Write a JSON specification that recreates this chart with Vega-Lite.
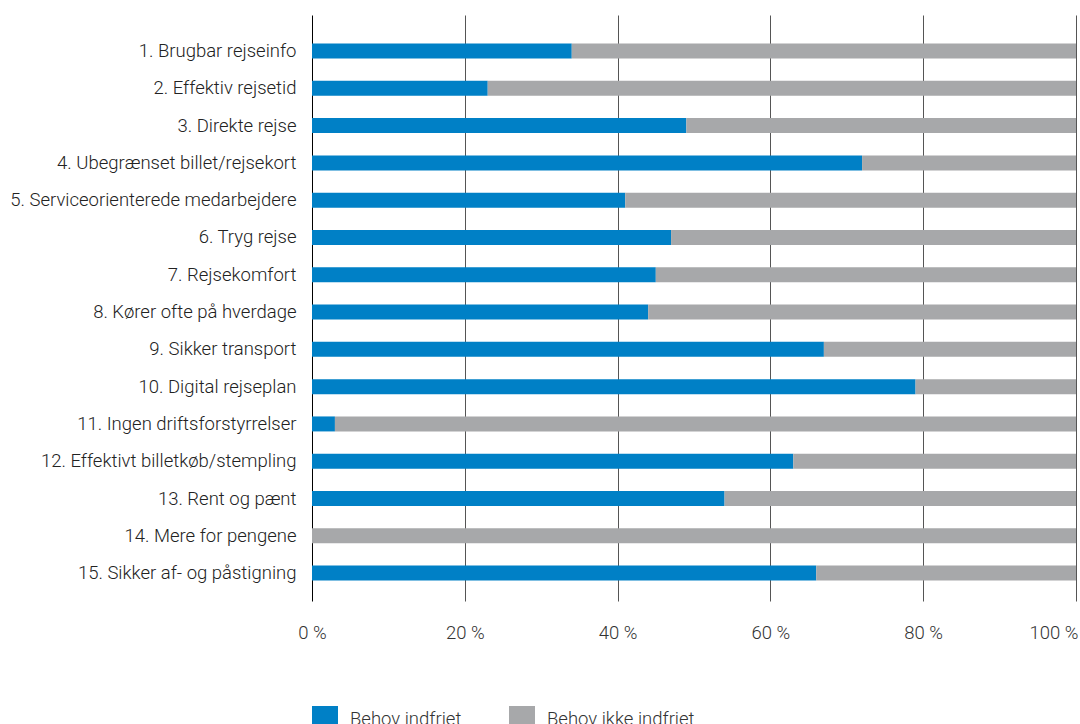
{
  "$schema": "https://vega.github.io/schema/vega-lite/v6.json",
  "width": 764,
  "height": 586,
  "autosize": {"type": "none"},
  "padding": {"left": 312, "top": 15, "right": 4, "bottom": 123},
  "background": "white",
  "config": {"view": {"stroke": null}, "font": "Roboto"},
  "data": {"values": [
    {"c": "1. Brugbar rejseinfo", "t": "Behov indfriet", "o": 1, "v": 34},
    {"c": "1. Brugbar rejseinfo", "t": "Behov ikke indfriet", "o": 2, "v": 66},
    {"c": "2. Effektiv rejsetid", "t": "Behov indfriet", "o": 1, "v": 23},
    {"c": "2. Effektiv rejsetid", "t": "Behov ikke indfriet", "o": 2, "v": 77},
    {"c": "3. Direkte rejse", "t": "Behov indfriet", "o": 1, "v": 49},
    {"c": "3. Direkte rejse", "t": "Behov ikke indfriet", "o": 2, "v": 51},
    {"c": "4. Ubegrænset billet/rejsekort", "t": "Behov indfriet", "o": 1, "v": 72},
    {"c": "4. Ubegrænset billet/rejsekort", "t": "Behov ikke indfriet", "o": 2, "v": 28},
    {"c": "5. Serviceorienterede medarbejdere", "t": "Behov indfriet", "o": 1, "v": 41},
    {"c": "5. Serviceorienterede medarbejdere", "t": "Behov ikke indfriet", "o": 2, "v": 59},
    {"c": "6. Tryg rejse", "t": "Behov indfriet", "o": 1, "v": 47},
    {"c": "6. Tryg rejse", "t": "Behov ikke indfriet", "o": 2, "v": 53},
    {"c": "7. Rejsekomfort", "t": "Behov indfriet", "o": 1, "v": 45},
    {"c": "7. Rejsekomfort", "t": "Behov ikke indfriet", "o": 2, "v": 55},
    {"c": "8. Kører ofte på hverdage", "t": "Behov indfriet", "o": 1, "v": 44},
    {"c": "8. Kører ofte på hverdage", "t": "Behov ikke indfriet", "o": 2, "v": 56},
    {"c": "9. Sikker transport", "t": "Behov indfriet", "o": 1, "v": 67},
    {"c": "9. Sikker transport", "t": "Behov ikke indfriet", "o": 2, "v": 33},
    {"c": "10. Digital rejseplan", "t": "Behov indfriet", "o": 1, "v": 79},
    {"c": "10. Digital rejseplan", "t": "Behov ikke indfriet", "o": 2, "v": 21},
    {"c": "11. Ingen driftsforstyrrelser", "t": "Behov indfriet", "o": 1, "v": 3},
    {"c": "11. Ingen driftsforstyrrelser", "t": "Behov ikke indfriet", "o": 2, "v": 97},
    {"c": "12. Effektivt billetkøb/stempling", "t": "Behov indfriet", "o": 1, "v": 63},
    {"c": "12. Effektivt billetkøb/stempling", "t": "Behov ikke indfriet", "o": 2, "v": 37},
    {"c": "13. Rent og pænt", "t": "Behov indfriet", "o": 1, "v": 54},
    {"c": "13. Rent og pænt", "t": "Behov ikke indfriet", "o": 2, "v": 46},
    {"c": "14. Mere for pengene", "t": "Behov indfriet", "o": 1, "v": 0},
    {"c": "14. Mere for pengene", "t": "Behov ikke indfriet", "o": 2, "v": 100},
    {"c": "15. Sikker af- og påstigning", "t": "Behov indfriet", "o": 1, "v": 66},
    {"c": "15. Sikker af- og påstigning", "t": "Behov ikke indfriet", "o": 2, "v": 34}
  ]},
  "mark": {"type": "bar"},
  "encoding": {
    "y": {
      "field": "c", "type": "nominal", "sort": null,
      "scale": {"paddingInner": 0.598, "paddingOuter": 0.6557, "align": 0.583},
      "axis": {"title": null, "ticks": false, "domain": false, "labelFontSize": 18.5, "labelColor": "#222", "labelPadding": 16, "labelLimit": 400, "labelFontWeight": 300}
    },
    "x": {
      "field": "v", "type": "quantitative", "stack": "zero",
      "scale": {"domain": [0, 100], "nice": false},
      "axis": {"title": null, "values": [0, 20, 40, 60, 80, 100], "labelExpr": "datum.value + ' %'", "ticks": false, "domain": false, "labelFontSize": 18.5, "labelColor": "#333", "labelPadding": 22, "labelFontWeight": 300, "labelFlush": false,
        "labelAlign": {"condition": {"test": "datum.value === 100", "value": "right"}, "value": "center"},
        "labelOffset": {"condition": {"test": "datum.value === 100", "value": 2}, "value": 0},
        "grid": true, "gridWidth": 1, "gridColor": {"condition": {"test": "datum.value === 0", "value": "#000000"}, "value": "#555555"}, "gridOpacity": 1}
    },
    "color": {
      "field": "t", "type": "nominal",
      "scale": {"domain": ["Behov indfriet", "Behov ikke indfriet"], "range": ["#0080C6", "#A7A8AA"]},
      "legend": {"title": null, "orient": "none", "legendX": 0, "legendY": 691, "direction": "horizontal", "symbolType": "square", "symbolSize": 676, "symbolStrokeWidth": 0, "symbolOpacity": 1, "labelFontSize": 18.5, "labelColor": "#333", "labelFontWeight": 300, "labelOffset": 12, "columnPadding": 47}
    },
    "order": {"field": "o", "type": "quantitative"}
  }
}
